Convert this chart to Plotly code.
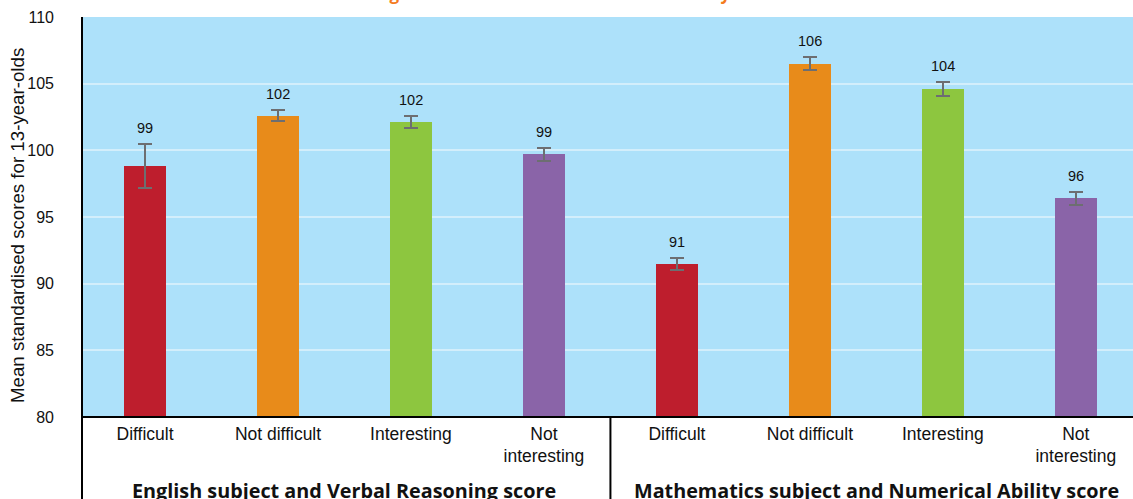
import plotly.graph_objects as go

categories = ["Difficult", "Not difficult", "Interesting", "Not<br>interesting"] * 2
groups = ["English subject and Verbal Reasoning score", "Mathematics subject and Numerical Ability score"]
values = [98.8, 102.6, 102.1, 99.7, 91.5, 106.5, 104.6, 96.4]
errors = [1.65, 0.4, 0.45, 0.5, 0.45, 0.5, 0.5, 0.5]
labels = ["99", "102", "102", "99", "91", "106", "104", "96"]
colors = ["#BE1E2D", "#E88B1A", "#8DC63F", "#8A64A8"] * 2
title = "Mean test scores at 13 among children who rated each area at nine years"
ytitle = "Mean standardised scores for 13-year-olds"

xpos = list(range(len(values)))
W, H = 1133, 499
ML, MT, MB = 82, 17, 82
PW, PH = W - ML, H - MT - MB

fig = go.Figure()
fig.add_trace(go.Bar(
    x=xpos, y=values, marker=dict(color=colors, line=dict(width=0)), width=0.315,
    error_y=dict(type="data", array=errors, visible=True, color="#6D6E71", thickness=2.2, width=7),
    hoverinfo="skip",
))

for xi, v, e, t in zip(xpos, values, errors, labels):
    fig.add_annotation(x=xi, y=v + e, text=t, showarrow=False, yanchor="bottom", yshift=6,
                       font=dict(family="Liberation Sans, Arial", size=14.5, color="#111111"))

for gi, g in enumerate(groups):
    fig.add_annotation(x=1.5 + 4 * gi, xref="x", y=-(490 - MT - PH) / PH, yref="paper", text=f"<b>{g}</b>",
                       showarrow=False, yanchor="middle",
                       font=dict(family="Open Sans", size=19.8, color="#111111"))

fig.add_annotation(x=(145 - ML) / PW, xref="paper", xanchor="left", y=1 + (MT - 7) / PH, yref="paper",
                   yanchor="bottom", text=f"<b>{title}</b>", showarrow=False,
                   font=dict(family="Open Sans", size=17, color="#F47B20"))

fig.add_annotation(x=(17 - ML) / PW, xref="paper", y=1 - (226 - MT) / PH, yref="paper",
                   text=ytitle, textangle=-90, showarrow=False, xanchor="center", yanchor="middle",
                   font=dict(family="Liberation Sans, Arial", size=18.7, color="#111111"))

# axis lines / dividers
fig.add_shape(type="line", xref="paper", yref="paper", x0=0, x1=0, y0=-0.3, y1=1,
              line=dict(color="black", width=2))
fig.add_shape(type="line", xref="paper", yref="paper", x0=0, x1=1, y0=0, y1=0,
              line=dict(color="black", width=2))
fig.add_shape(type="line", xref="x", yref="paper", x0=3.5, x1=3.5, y0=-0.3, y1=0,
              line=dict(color="black", width=2))

fig.update_layout(
    width=W, height=H,
    margin=dict(l=ML, r=0, t=MT, b=MB, autoexpand=False),
    paper_bgcolor="white", plot_bgcolor="#ADE1FA",
    showlegend=False,
    bargap=0,
    xaxis=dict(range=[-0.474, 7.43], tickvals=xpos, ticktext=categories, showgrid=False, zeroline=False,
               ticks="", showline=False, automargin=False, ticklabelstandoff=4,
               tickfont=dict(family="Liberation Sans, Arial", size=17.5, color="#111111")),
    yaxis=dict(range=[80, 110], tickvals=[80, 85, 90, 95, 100, 105, 110], showgrid=True,
               gridcolor="#D3EEFB", gridwidth=2, zeroline=False, showline=False, ticks="",
               ticklabelstandoff=27, automargin=False,
               tickfont=dict(family="Liberation Sans, Arial", size=16, color="#111111")),
)

fig.write_html("out.html", config={"displayModeBar": False},
               post_script="document.body.style.margin='0';document.body.style.overflow='hidden';")
